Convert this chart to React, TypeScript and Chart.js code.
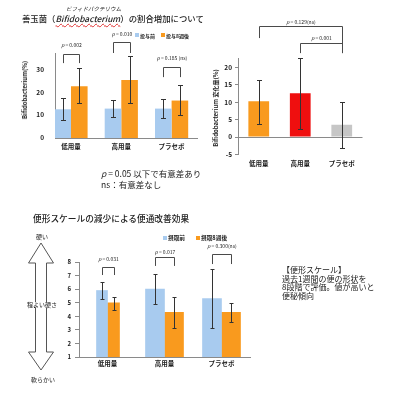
import React, { useEffect, useRef } from 'react';
import { Chart, registerables } from 'chart.js';

Chart.register(...registerables);

const FONT = '"Noto Sans CJK JP", "Noto Sans", sans-serif';
const INK = '#222';
const AXIS = '#8a8a8a';
const ERR = '#333';
const BRACKET = '#4a4a4a';
const BLUE = '#a8cbef';
const ORANGE = '#f99a1e';
const RED = '#ef0f0f';
const GRAY = '#c6c6c6';

Chart.defaults.font.family = FONT;

// ---------- shared categories ----------
const groups = ['低用量', '高用量', 'プラセボ'];

// ---------- chart 1: Bifidobacterium ratio ----------
const bifidoBefore = [12.5, 12.8, 12.8];
const bifidoAfter = [22.5, 25.3, 16.3];
const bifidoBeforeLow = [8.0, 9.0, 8.8];
const bifidoBeforeHigh = [17.5, 16.5, 17.0];
const bifidoAfterLow = [15.3, 15.3, 9.8];
const bifidoAfterHigh = [30.3, 35.5, 23.0];
const bifidoTicks = [0, 10, 20, 30];
const bifidoP = ['p = 0.002', 'p = 0.010', 'p = 0.185 (ns)'];
const bifidoBracketTop = [36.5, 41.7, 30.9];
const bifidoBracketLeg = [32.6, 37.0, 26.5];
const bifidoPTextY = [40.4, 45.2, 34.8];

// ---------- chart 2: change ----------
const changeValues = [10.2, 12.5, 3.5];
const changeLow = [3.8, 2.3, -3.2];
const changeHigh = [16.3, 22.5, 10.0];
const changeTicks = [-5, 0, 5, 10, 15, 20];
const changeP = ['p = 0.129(ns)', 'p = 0.001'];

// ---------- chart 3: stool scale ----------
const scaleBefore = [5.9, 6.0, 5.3];
const scaleAfter = [5.0, 4.3, 4.3];
const scaleBeforeLow = [5.27, 4.88, 3.15];
const scaleBeforeHigh = [6.5, 7.12, 7.5];
const scaleAfterLow = [4.5, 3.11, 3.6];
const scaleAfterHigh = [5.44, 5.44, 5.0];
const scaleTicks = [1, 2, 3, 4, 5, 6, 7, 8];
const scaleP = ['p = 0.031', 'p = 0.017', 'p = 0.300(ns)'];
const scaleBracketTop = [7.65, 8.39, 8.59];
const scaleBracketLeg = [7.04, 7.71, 7.85];
const scalePTextY = [8.22, 8.74, 9.14];
const narrowGroup = [true, false, false];

function drawP(ctx: any, label: string, cx: number, cy: number, size: number) {
  const rest = label.slice(1);
  ctx.font = `italic ${size}px ${FONT}`;
  const w1 = ctx.measureText('p').width;
  ctx.font = `${size}px ${FONT}`;
  const w2 = ctx.measureText(rest).width;
  const x = cx - (w1 + w2) / 2;
  ctx.fillStyle = INK;
  ctx.textBaseline = 'middle';
  ctx.textAlign = 'left';
  ctx.font = `italic ${size}px ${FONT}`;
  ctx.fillText('p', x, cy);
  ctx.font = `${size}px ${FONT}`;
  ctx.fillText(rest, x + w1, cy);
}

type ErrSpec = { low: number[]; high: number[] } | null;

function errorBarsPlugin(specs: ErrSpec[], cap: number) {
  return {
    id: 'errorBars',
    afterDatasetsDraw(chart: any) {
      const { ctx } = chart;
      const ys = chart.scales.y;
      ctx.save();
      ctx.strokeStyle = ERR;
      ctx.lineWidth = 1;
      specs.forEach((spec, di) => {
        if (!spec) return;
        const ds = chart.data.datasets[di];
        const meta = chart.getDatasetMeta(di);
        meta.data.forEach((bar: any, i: number) => {
          const v = ds.data[i];
          if (v == null || spec.low[i] == null) return;
          const x = Math.round(bar.x) + 0.5;
          const y1 = Math.round(ys.getPixelForValue(spec.low[i])) + 0.5;
          const y2 = Math.round(ys.getPixelForValue(spec.high[i])) + 0.5;
          ctx.beginPath();
          ctx.moveTo(x, y1);
          ctx.lineTo(x, y2);
          ctx.moveTo(x - cap, y1);
          ctx.lineTo(x + cap, y1);
          ctx.moveTo(x - cap, y2);
          ctx.lineTo(x + cap, y2);
          ctx.stroke();
        });
      });
      ctx.restore();
    },
  };
}

type BracketSpec = {
  a: [number, number];
  b: [number, number];
  top: number;
  legA: number;
  legB: number;
  label: string;
  textY: number;
};

function bracketsPlugin(specs: BracketSpec[], fontSize: number) {
  return {
    id: 'brackets',
    afterDatasetsDraw(chart: any) {
      const { ctx } = chart;
      const ys = chart.scales.y;
      ctx.save();
      ctx.strokeStyle = BRACKET;
      ctx.lineWidth = 1;
      specs.forEach((s) => {
        const xa = Math.round(chart.getDatasetMeta(s.a[0]).data[s.a[1]].x) + 0.5;
        const xb = Math.round(chart.getDatasetMeta(s.b[0]).data[s.b[1]].x) + 0.5;
        const yt = Math.round(ys.getPixelForValue(s.top)) + 0.5;
        ctx.beginPath();
        ctx.moveTo(xa, ys.getPixelForValue(s.legA));
        ctx.lineTo(xa, yt);
        ctx.lineTo(xb, yt);
        ctx.lineTo(xb, ys.getPixelForValue(s.legB));
        ctx.stroke();
        drawP(ctx, s.label, (xa + xb) / 2, ys.getPixelForValue(s.textY), fontSize);
      });
      ctx.restore();
    },
  };
}

const tickFont = { size: 6.5, weight: 'bold' as const };

function useChart(ref: React.RefObject<HTMLCanvasElement>, make: () => any) {
  useEffect(() => {
    if (!ref.current) return;
    const chart = new Chart(ref.current, make());
    return () => chart.destroy();
  }, []);
}

function Chart1() {
  const ref = useRef<HTMLCanvasElement>(null);
  useChart(ref, () => ({
    type: 'bar',
    data: {
      datasets: [
        { label: '投与前', data: bifidoBefore.map((y, i) => ({ x: i, y })), backgroundColor: BLUE },
        { label: '投与8週後', data: bifidoAfter.map((y, i) => ({ x: i, y })), backgroundColor: ORANGE },
      ],
    },
    options: {
      animation: false,
      responsive: false,
      layout: { padding: { top: 53, right: 3, left: 0, bottom: 0 } },
      datasets: { bar: { barPercentage: 1, categoryPercentage: 0.66 } },
      plugins: { legend: { display: false }, tooltip: { enabled: false } },
      scales: {
        x: {
          type: 'linear',
          offset: false,
          min: -0.318,
          max: 2.505,
          afterBuildTicks: (s: any) => { s.ticks = groups.map((_, i) => ({ value: i })); },
          afterFit: (s: any) => { s.height = 27; },
          ticks: { callback: (v: any) => groups[v], font: tickFont, color: INK, padding: 5, autoSkip: false, maxRotation: 0 },
          grid: { display: false, drawTicks: false },
          border: { color: AXIS },
        },
        y: {
          min: 0,
          max: 37,
          afterBuildTicks: (s: any) => { s.ticks = bifidoTicks.map((v) => ({ value: v })); },
          afterFit: (s: any) => { s.width = 55; },
          ticks: { font: tickFont, color: INK, padding: 11 },
          grid: { display: false, drawTicks: false },
          border: { color: AXIS },
        },
      },
    },
    plugins: [
      errorBarsPlugin([
        { low: bifidoBeforeLow, high: bifidoBeforeHigh },
        { low: bifidoAfterLow, high: bifidoAfterHigh },
      ], 2.5),
      bracketsPlugin(groups.map((_, i) => ({
        a: [0, i], b: [1, i],
        top: bifidoBracketTop[i], legA: bifidoBracketLeg[i], legB: bifidoBracketLeg[i],
        label: bifidoP[i], textY: bifidoPTextY[i],
      })) as BracketSpec[], 5),
    ],
  }));
  return <canvas ref={ref} width={200} height={165} style={{ position: 'absolute', left: 0, top: 0, width: 200, height: 165 }} />;
}

function Chart2() {
  const ref = useRef<HTMLCanvasElement>(null);
  useChart(ref, () => ({
    type: 'bar',
    data: {
      labels: groups,
      datasets: [
        { label: '変化量', data: changeValues, backgroundColor: [ORANGE, RED, GRAY] },
      ],
    },
    options: {
      animation: false,
      responsive: false,
      layout: { padding: { top: 58, right: 34.5, left: 0, bottom: 0 } },
      datasets: { bar: { barPercentage: 0.5, categoryPercentage: 1 } },
      plugins: { legend: { display: false }, tooltip: { enabled: false } },
      scales: {
        x: {
          afterFit: (s: any) => { s.height = 20.5; },
          ticks: { font: tickFont, color: INK, padding: 5, autoSkip: false, maxRotation: 0 },
          grid: { display: false, drawTicks: false },
          border: { display: false },
        },
        y: {
          min: -5,
          max: 22.6,
          afterBuildTicks: (s: any) => { s.ticks = changeTicks.map((v) => ({ value: v })); },
          afterFit: (s: any) => { s.width = 38; },
          ticks: { font: tickFont, color: INK, padding: 3 },
          grid: {
            color: (c: any) => (c.tick && c.tick.value === 0 ? AXIS : 'rgba(0,0,0,0)'),
            tickColor: AXIS,
            tickLength: 3,
            drawTicks: true,
          },
          border: { color: AXIS },
        },
      },
    },
    plugins: [
      errorBarsPlugin([{ low: changeLow, high: changeHigh }], 2.5),
      bracketsPlugin([
        { a: [0, 0], b: [0, 2], top: 31.7, legA: 28.3, legB: 24, label: changeP[0], textY: 32.9 },
        { a: [0, 1], b: [0, 2], top: 26.9, legA: 24, legB: 24, label: changeP[1], textY: 28.3 },
      ], 5),
    ],
  }));
  return <canvas ref={ref} width={197} height={175} style={{ position: 'absolute', left: 200, top: 0, width: 197, height: 175 }} />;
}

function Chart3() {
  const ref = useRef<HTMLCanvasElement>(null);
  useChart(ref, () => ({
    type: 'bar',
    data: {
      labels: groups,
      datasets: [
        { label: '摂取前', data: scaleBefore.map((v, i) => (narrowGroup[i] ? v : null)), backgroundColor: BLUE, barThickness: 11, skipNull: true },
        { label: '摂取8週後', data: scaleAfter.map((v, i) => (narrowGroup[i] ? v : null)), backgroundColor: ORANGE, barThickness: 12, skipNull: true },
        { label: '摂取前', data: scaleBefore.map((v, i) => (narrowGroup[i] ? null : v)), backgroundColor: BLUE, barThickness: 19, skipNull: true },
        { label: '摂取8週後', data: scaleAfter.map((v, i) => (narrowGroup[i] ? null : v)), backgroundColor: ORANGE, barThickness: 19, skipNull: true },
      ],
    },
    options: {
      animation: false,
      responsive: false,
      layout: { padding: { top: 37, right: 10, left: 0, bottom: 0 } },
      plugins: { legend: { display: false }, tooltip: { enabled: false } },
      scales: {
        x: {
          afterFit: (s: any) => { s.height = 18; },
          ticks: { font: tickFont, color: INK, padding: 3, autoSkip: false, maxRotation: 0 },
          grid: { display: false, drawTicks: false },
          border: { color: AXIS },
        },
        y: {
          min: 1,
          max: 8,
          afterBuildTicks: (s: any) => { s.ticks = scaleTicks.map((v) => ({ value: v })); },
          afterFit: (s: any) => { s.width = 79; },
          ticks: { font: { size: 6, weight: 'bold' }, color: INK, padding: 4 },
          grid: { drawOnChartArea: false, color: AXIS, tickColor: AXIS, tickLength: 4 },
          border: { color: AXIS },
        },
      },
    },
    plugins: [
      errorBarsPlugin([
        { low: scaleBeforeLow, high: scaleBeforeHigh },
        { low: scaleAfterLow, high: scaleAfterHigh },
        { low: scaleBeforeLow, high: scaleBeforeHigh },
        { low: scaleAfterLow, high: scaleAfterHigh },
      ], 2),
      bracketsPlugin(groups.map((_, i) => {
        const da = narrowGroup[i] ? 0 : 2;
        return {
          a: [da, i], b: [da + 1, i],
          top: scaleBracketTop[i], legA: scaleBracketLeg[i], legB: scaleBracketLeg[i],
          label: scaleP[i], textY: scalePTextY[i],
        };
      }) as BracketSpec[], 5),
    ],
  }));
  return <canvas ref={ref} width={260} height={150} style={{ position: 'absolute', left: 0, top: 225, width: 260, height: 150 }} />;
}

type TxtProps = {
  x: number; y: number; size: number; bold?: boolean; weight?: number; center?: boolean; rotate?: boolean;
  children: React.ReactNode; style?: React.CSSProperties;
};

function Txt({ x, y, size, bold, weight, center, rotate, children, style }: TxtProps) {
  let transform = `translate(${center || rotate ? '-50%' : '0'}, -50%)`;
  if (rotate) transform += ' rotate(-90deg)';
  return (
    <div
      style={{
        position: 'absolute', left: x, top: y, transform, fontSize: size, lineHeight: 1,
        fontWeight: weight || (bold ? 700 : 400), whiteSpace: 'nowrap', color: INK, fontFamily: FONT, ...style,
      }}
    >
      {children}
    </div>
  );
}

function Sq({ x, y, color }: { x: number; y: number; color: string }) {
  return <div style={{ position: 'absolute', left: x, top: y, width: 4, height: 4, background: color }} />;
}

export default function App() {
  return (
    <div style={{ position: 'absolute', left: 0, top: 0, width: 397, height: 400, overflow: 'hidden', background: '#fff', fontFamily: FONT }}>
      <Chart1 />
      <Chart2 />
      <Chart3 />

      {/* chart 1 title */}
      <Txt x={66} y={10} size={5.5} style={{ fontStyle: 'italic' }}>ビフィドバクテリウム</Txt>
      <Txt x={22} y={18} size={8.4} weight={500}>
        善玉菌（<span style={{ fontStyle: 'italic', textDecoration: 'underline wavy #e03030', textDecorationThickness: '1px' }}>Bifidobacterium</span>）の割合増加について
      </Txt>
      {/* chart 1 legend */}
      <Sq x={135} y={33} color={BLUE} />
      <Txt x={140} y={35} size={5} bold>投与前</Txt>
      <Sq x={161} y={33} color={ORANGE} />
      <Txt x={166} y={35} size={5} bold>投与8週後</Txt>
      {/* chart 1 y title */}
      <Txt x={25} y={90} size={6} bold rotate>Bifidobacterium(%)</Txt>
      {/* chart 1 note */}
      <Txt x={101} y={173} size={8.5}><i>p</i> = 0.05 以下で有意差あり</Txt>
      <Txt x={101} y={184} size={8.5}>ns：有意差なし</Txt>

      {/* chart 2 y title */}
      <Txt x={216} y={108} size={6} bold rotate>Bifidobacterium 変化量(%)</Txt>

      {/* chart 3 title */}
      <Txt x={33} y={219} size={8.7} weight={500}>便形スケールの減少による便通改善効果</Txt>
      {/* chart 3 legend */}
      <Sq x={163} y={236} color={BLUE} />
      <Txt x={168} y={238} size={5.7} bold>摂取前</Txt>
      <Sq x={196} y={236} color={ORANGE} />
      <Txt x={201} y={238} size={5.7} bold>摂取8週後</Txt>

      {/* stool hardness arrow */}
      <svg width={397} height={400} style={{ position: 'absolute', left: 0, top: 0, pointerEvents: 'none' }}>
        <polygon
          points="41,243 53.5,263 46.5,263 46.5,352 53.5,352 41,370 28.5,352 35.5,352 35.5,263 28.5,263"
          fill="#fff"
          stroke="#555"
          strokeWidth={1}
        />
      </svg>
      <Txt x={42} y={237} size={6} center>硬い</Txt>
      <Txt x={42} y={305} size={6} center style={{ background: '#fff' }}>程よい硬さ</Txt>
      <Txt x={43} y={380} size={6} center>軟らかい</Txt>

      {/* chart 3 note */}
      <div style={{ position: 'absolute', left: 282, top: 266, fontSize: 8, lineHeight: '8.5px', color: INK, fontFamily: FONT, whiteSpace: 'nowrap' }}>
        【便形スケール】<br />
        過去1週間の便の形状を<br />
        8段階で評価。値が高いと<br />
        便秘傾向
      </div>
    </div>
  );
}
